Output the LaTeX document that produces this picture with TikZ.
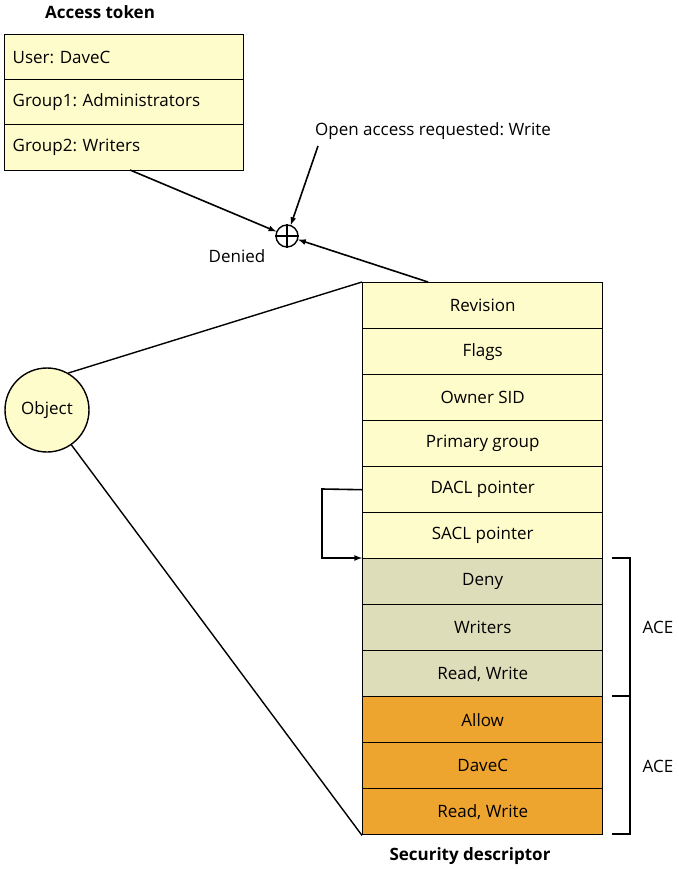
\documentclass[tikz,border=0pt]{standalone}
\usepackage{fontspec}
\setmainfont{Open Sans}
\frenchspacing
\begin{document}
\begin{tikzpicture}[x=1pt,y=-1pt,
  cell/.style={draw=black,line width=1.4pt,minimum width=240pt,minimum height=46pt,inner sep=0pt,font=\fontsize{17}{20}\selectfont},
  yel/.style={cell,fill=yellow!20},
  gry/.style={cell,fill={rgb,255:red,222;green,221;blue,186}},
  org/.style={cell,fill={rgb,255:red,238;green,165;blue,48}},
  lbl/.style={font=\fontsize{17}{20}\selectfont},
  ttl/.style={font=\bfseries\fontsize{17}{20}\selectfont},
  arr/.style={-latex,line width=1.6pt},
  ln/.style={line width=1.4pt}]
\useasboundingbox (0,0) rectangle (678,870);
\node[ttl] (t1) at (100,12) {Access token};
\node[yel,minimum width=239pt,minimum height=45pt,anchor=north west,text width=223pt,align=left,inner xsep=8pt] (u) at (4,34) {User: DaveC};
\node[yel,minimum width=239pt,minimum height=45pt,anchor=north west,text width=223pt,align=left,inner xsep=8pt] (g1) at (4,79) {Group1: Administrators};
\node[yel,minimum width=239pt,minimum height=46pt,anchor=north west,text width=223pt,align=left,inner xsep=8pt] (g2) at (4,124) {Group2: Writers};
\node[lbl] (req) at (433,131) {Open access requested: Write};
\node[draw,circle,line width=1.4pt,minimum size=22pt,inner sep=0pt] (op) at (287,236) {};
\draw[ln] (op.north)--(op.south) (op.west)--(op.east);
\node[lbl] (den) at (237,256) {Denied};
\foreach \n/\t/\s [count=\i from 0] in {rev/Revision/yel,fl/Flags/yel,own/Owner SID/yel,pg/Primary group/yel,dp/DACL pointer/yel,sp/SACL pointer/yel,de/Deny/gry,wr/Writers/gry,rw1/{Read, Write}/gry,al/Allow/org,dc/DaveC/org,rw2/{Read, Write}/org}
  \node[\s,anchor=north west] (\n) at (362,282+46*\i) {\t};
\node[ttl] (sd) at (470,856) {Security descriptor};
\node[draw,circle,line width=1.4pt,fill=yellow!20,minimum size=84pt,inner sep=0pt,lbl] (obj) at (47,410) {Object};
\coordinate (c1) at (130,170);
\coordinate (c2) at (318,146);
\coordinate (c3) at (428,282);
\draw[arr] (c1)--(op);
\draw[arr] (c2)--(op);
\draw[arr] (c3)--(op);
\draw[ln] (obj.60)--(rev.north west);
\draw[ln] (obj.-55)--(rw2.south west);
\coordinate (d1) at (322,489);
\coordinate (d2) at (322,558);
\draw[arr] (dp.west)--(d1)--(d2)--(de.north west);
\coordinate (b0) at (612,558);\coordinate (b1) at (630,558);
\coordinate (b2) at (612,696);\coordinate (b3) at (630,696);
\coordinate (b4) at (612,834);\coordinate (b5) at (630,834);
\draw[ln] (b0)--(b1)--(b5)--(b4) (b2)--(b3);
\node[lbl] (ace1) at (658,627) {ACE};
\node[lbl] (ace2) at (658,766) {ACE};
\end{tikzpicture}
\end{document}
